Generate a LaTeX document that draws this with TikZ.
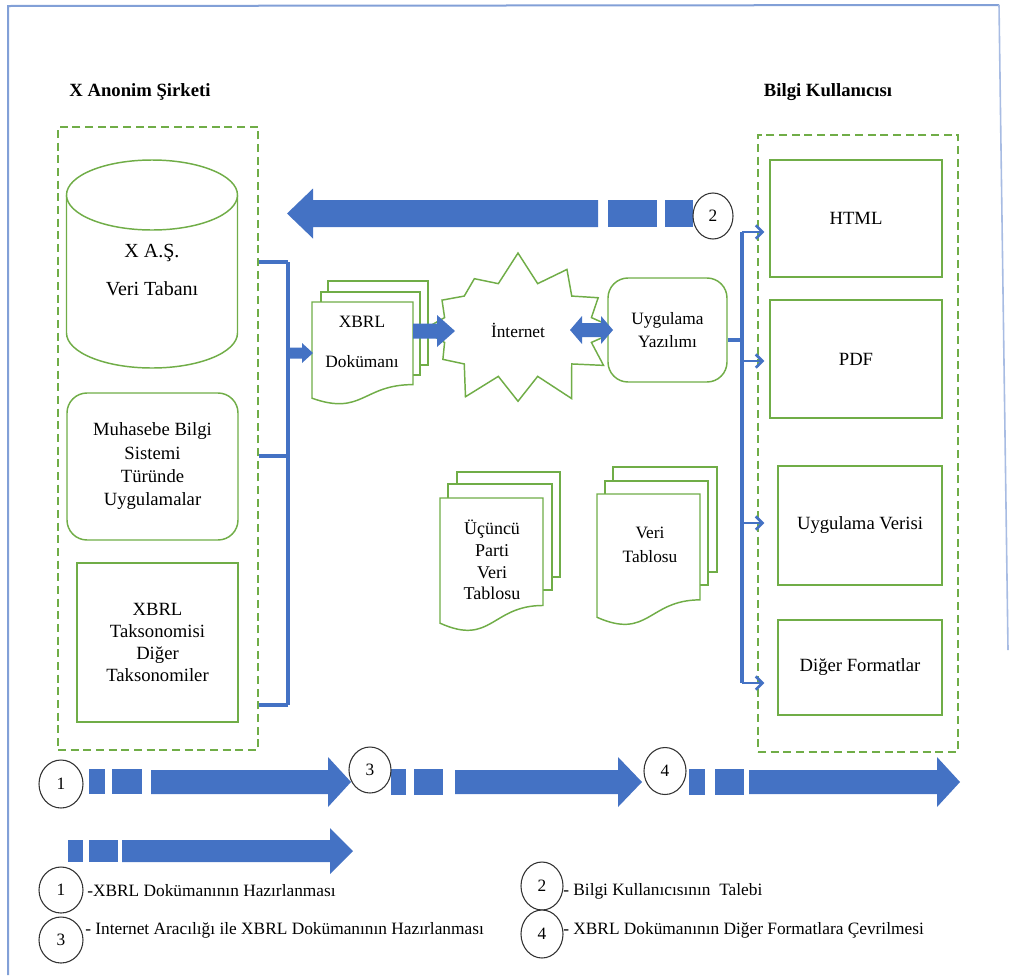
\documentclass[tikz,border=0pt]{standalone}
\usepackage{fontspec}
\setmainfont{Liberation Serif}
\usetikzlibrary{arrows.meta,positioning,shapes.geometric,shapes.symbols,calc}

\definecolor{procblue}{RGB}{68,114,196}
\definecolor{boxgreen}{RGB}{112,173,71}
\definecolor{framebl}{RGB}{130,160,215}

% one page of a stacked document: x y w h (pixel units)
\newcommand{\docpage}[4]{%
  \draw[pagecol] (#1,#2) -- ({#1+#3},#2) -- ({#1+#3},{#2+0.802*#4})
    .. controls ({#1+0.5*#3},{#2+0.802*#4}) and ({#1+0.5*#3},{#2+1.1075*#4}) .. (#1,{#2+0.934*#4}) -- cycle;}
% block arrow: x-tail x-tip y shaft-half head-half x-headstart
\newcommand{\blkarrow}[6]{%
  \fill[blk] (#1,{#3-#4}) -- (#6,{#3-#4}) -- (#6,{#3-#5}) -- (#2,#3) -- (#6,{#3+#5}) -- (#6,{#3+#4}) -- (#1,{#3+#4}) -- cycle;}

\tikzset{
  sz/.style 2 args={minimum width=#1*0.75pt,minimum height=#2*0.75pt},
  grbox/.style={draw=boxgreen,line width=1.1pt,fill=white,inner sep=0pt,align=center,font=\fontsize{14}{17.5}\selectfont},
  grgroup/.style={draw=boxgreen,line width=1.1pt,dash pattern=on 6pt off 3.5pt,inner sep=0pt},
  numring/.style={draw=black!80,line width=0.8pt,fill=white,ellipse,inner sep=0pt,font=\fontsize{13}{15}\selectfont},
  bus/.style={draw=procblue,line width=3pt},
  feed/.style={draw=procblue,line width=2pt,-{Straight Barb[length=5pt,width=10pt]}},
  blk/.style={fill=procblue},
  pagecol/.style={draw=boxgreen,line width=1.1pt,fill=white},
  heading/.style={font=\fontsize{14}{16}\selectfont\bfseries},
  legtext/.style={anchor=west,inner sep=0pt,font=\fontsize{13}{15}\selectfont},
  doctext/.style={align=center,inner sep=0pt,font=\fontsize{13}{17}\selectfont}
}

\begin{document}
\begin{tikzpicture}[x=0.75pt,y=-0.75pt]
\useasboundingbox (0,0) rectangle (1009,975);

% frame
\draw[framebl,line width=1.5pt] (8,975) -- (8,6) -- (999,5);
\draw[framebl!70,line width=1.2pt] (999,5) -- (1008,650);

% headings
\node[heading] (lhead) at (140,92) {X Anonim Şirketi};
\node[heading] (rhead) at (828,92) {Bilgi Kullanıcısı};

% groups
\node[grgroup,sz={200}{623}] (lcont) at (158,438.5) {};
\node[grgroup,sz={200}{617}] (rcont) at (858,443.5) {};

% company side
\draw[pagecol] (66.5,195) -- (66.5,333) arc[start angle=180,end angle=360,x radius=64.125pt,y radius=26.25pt] -- (237.5,195);
\draw[pagecol] (152,195) ellipse [x radius=64.125pt,y radius=26.25pt];
\node[doctext,font=\fontsize{15}{17}\selectfont] (db) at (152,270) {X A.Ş.\\[12pt]Veri Tabanı};
\node[grbox,rounded corners=15pt,sz={171}{147}] (mbs) at (152.5,466.5) {Muhasebe Bilgi\\Sistemi\\Türünde\\Uygulamalar};
\node[grbox,sz={161}{159},font=\fontsize{14}{16.5}\selectfont] (xtax) at (157.5,642.5) {XBRL\\Taksonomisi\\Diğer\\Taksonomiler};

% user side
\node[grbox,sz={172}{117}] (html) at (856,218.5) {HTML};
\node[grbox,sz={172}{118}] (pdf) at (856,359) {PDF};
\node[grbox,sz={164}{119}] (uver) at (860,525.5) {Uygulama Verisi};
\node[grbox,sz={164}{95}] (dfor) at (860,667.5) {Diğer Formatlar};

% document stacks
\draw[pagecol] (328,281) rectangle (428,365);
\draw[pagecol] (321,292) rectangle (420,375);
\docpage{312}{302}{101}{103}
\node[doctext] (xdoc) at (362,342) {XBRL\\[13pt]Dokümanı};

\draw[pagecol] (457,472) rectangle (560,577);
\draw[pagecol] (448,484) rectangle (552,590);
\docpage{440}{498}{103}{134}
\node[doctext,font=\fontsize{13.5}{16.3}\selectfont] (tpdoc) at (492,560) {Üçüncü\\Parti\\Veri\\Tablosu};

\draw[pagecol] (613,467) rectangle (717,572);
\draw[pagecol] (605,481) rectangle (708,585);
\docpage{597}{494}{103}{132}
\node[doctext,font=\fontsize{13}{18}\selectfont] (vtdoc) at (650,545) {Veri\\Tablosu};

% network
\node[grbox,font=\fontsize{13}{17}\selectfont,starburst,starburst points=12,starburst point height=24pt,random starburst=7,minimum width=162pt,minimum height=120pt] (inet) at (518,330) {İnternet};
\node[grbox,font=\fontsize{13}{17}\selectfont,rounded corners=15pt,sz={119}{104}] (app) at (667.5,330) {Uygulama\\Yazılımı};

% connectors
\coordinate (lbtop) at (288,262);
\coordinate (lbbot) at (288,705);
\draw[bus,line width=2.6pt] (lcont.east |- lbtop) -- (lbtop);
\draw[bus] (lbtop) -- (lbbot);
\draw[bus,line width=2.6pt] (lbbot) -- (lcont.east |- lbbot);
\draw[bus,line width=2.6pt] (lcont.east |- 0,456) -- (lbtop |- 0,456);
\blkarrow{289}{313}{353}{5.5}{10}{302}
\blkarrow{413}{455}{331}{7.5}{16}{437}
\fill[blk] (570,330) -- (582,316) -- (582,323) -- (601,323) -- (601,316) -- (613,330)
  -- (601,344) -- (601,337) -- (582,337) -- (582,344) -- cycle;

\coordinate (rbtop) at (742,232);
\coordinate (rbbot) at (742,683);
\draw[bus] (rbtop) -- (rbbot);
\draw[bus,line width=2.6pt] (app.east |- 0,340) -- (rbtop |- 0,340);
\draw[feed,shorten >=3.75pt] (rbtop) -- (html.west |- rbtop);
\draw[feed,shorten >=3.75pt] (rbtop |- 0,361) -- (pdf.west |- 0,361);
\draw[feed,shorten >=9.75pt] (rbtop |- 0,523) -- (uver.west |- 0,523);
\draw[feed,shorten >=9.75pt] (rbbot) -- (dfor.west |- rbbot);

% request arrow
\blkarrow{598}{287}{213.5}{13.5}{25}{313}
\fill[blk] (608,200) rectangle (657,227);
\fill[blk] (665,200) rectangle (693,227);
\node[numring,sz={40}{46}] (n2top) at (713,216) {2};

% process arrows
\fill[blk] (89,769) rectangle (105,794);
\fill[blk] (112,769) rectangle (142,794);
\blkarrow{151}{351}{782}{12}{25}{328}
\fill[blk] (391,769) rectangle (406,795);
\fill[blk] (414,769) rectangle (443,795);
\blkarrow{455}{642}{782}{12}{25}{618}
\fill[blk] (689,769) rectangle (705,795);
\fill[blk] (715,769) rectangle (744,795);
\blkarrow{749}{960}{782}{12}{25}{937}
\node[numring,sz={44}{48}] (n1row) at (61,784) {1};
\node[numring,sz={42}{46}] (n3row) at (370,770) {3};
\node[numring,sz={42}{47}] (n4row) at (665,771) {4};

\fill[blk] (68,840) rectangle (83,862);
\fill[blk] (89,840) rectangle (118,862);
\blkarrow{122}{353}{851}{11}{23}{330}

% legend
\node[numring,sz={44}{46}] (k1) at (61,890) {1};
\node[numring,sz={44}{46}] (k3) at (61,940) {3};
\node[numring,sz={42}{48}] (k2) at (542,886) {2};
\node[numring,sz={42}{48}] (k4) at (542,934) {4};
\node[legtext] (t1) at (87,891) {-XBRL Dokümanının Hazırlanması};
\node[legtext] (t3) at (85,930) {- Internet Aracılığı ile XBRL Dokümanının Hazırlanması};
\node[legtext] (t2) at (563,891) {- Bilgi Kullanıcısının \ Talebi};
\node[legtext] (t4) at (563,930) {- XBRL Dokümanının Diğer Formatlara Çevrilmesi};
\end{tikzpicture}
\end{document}
